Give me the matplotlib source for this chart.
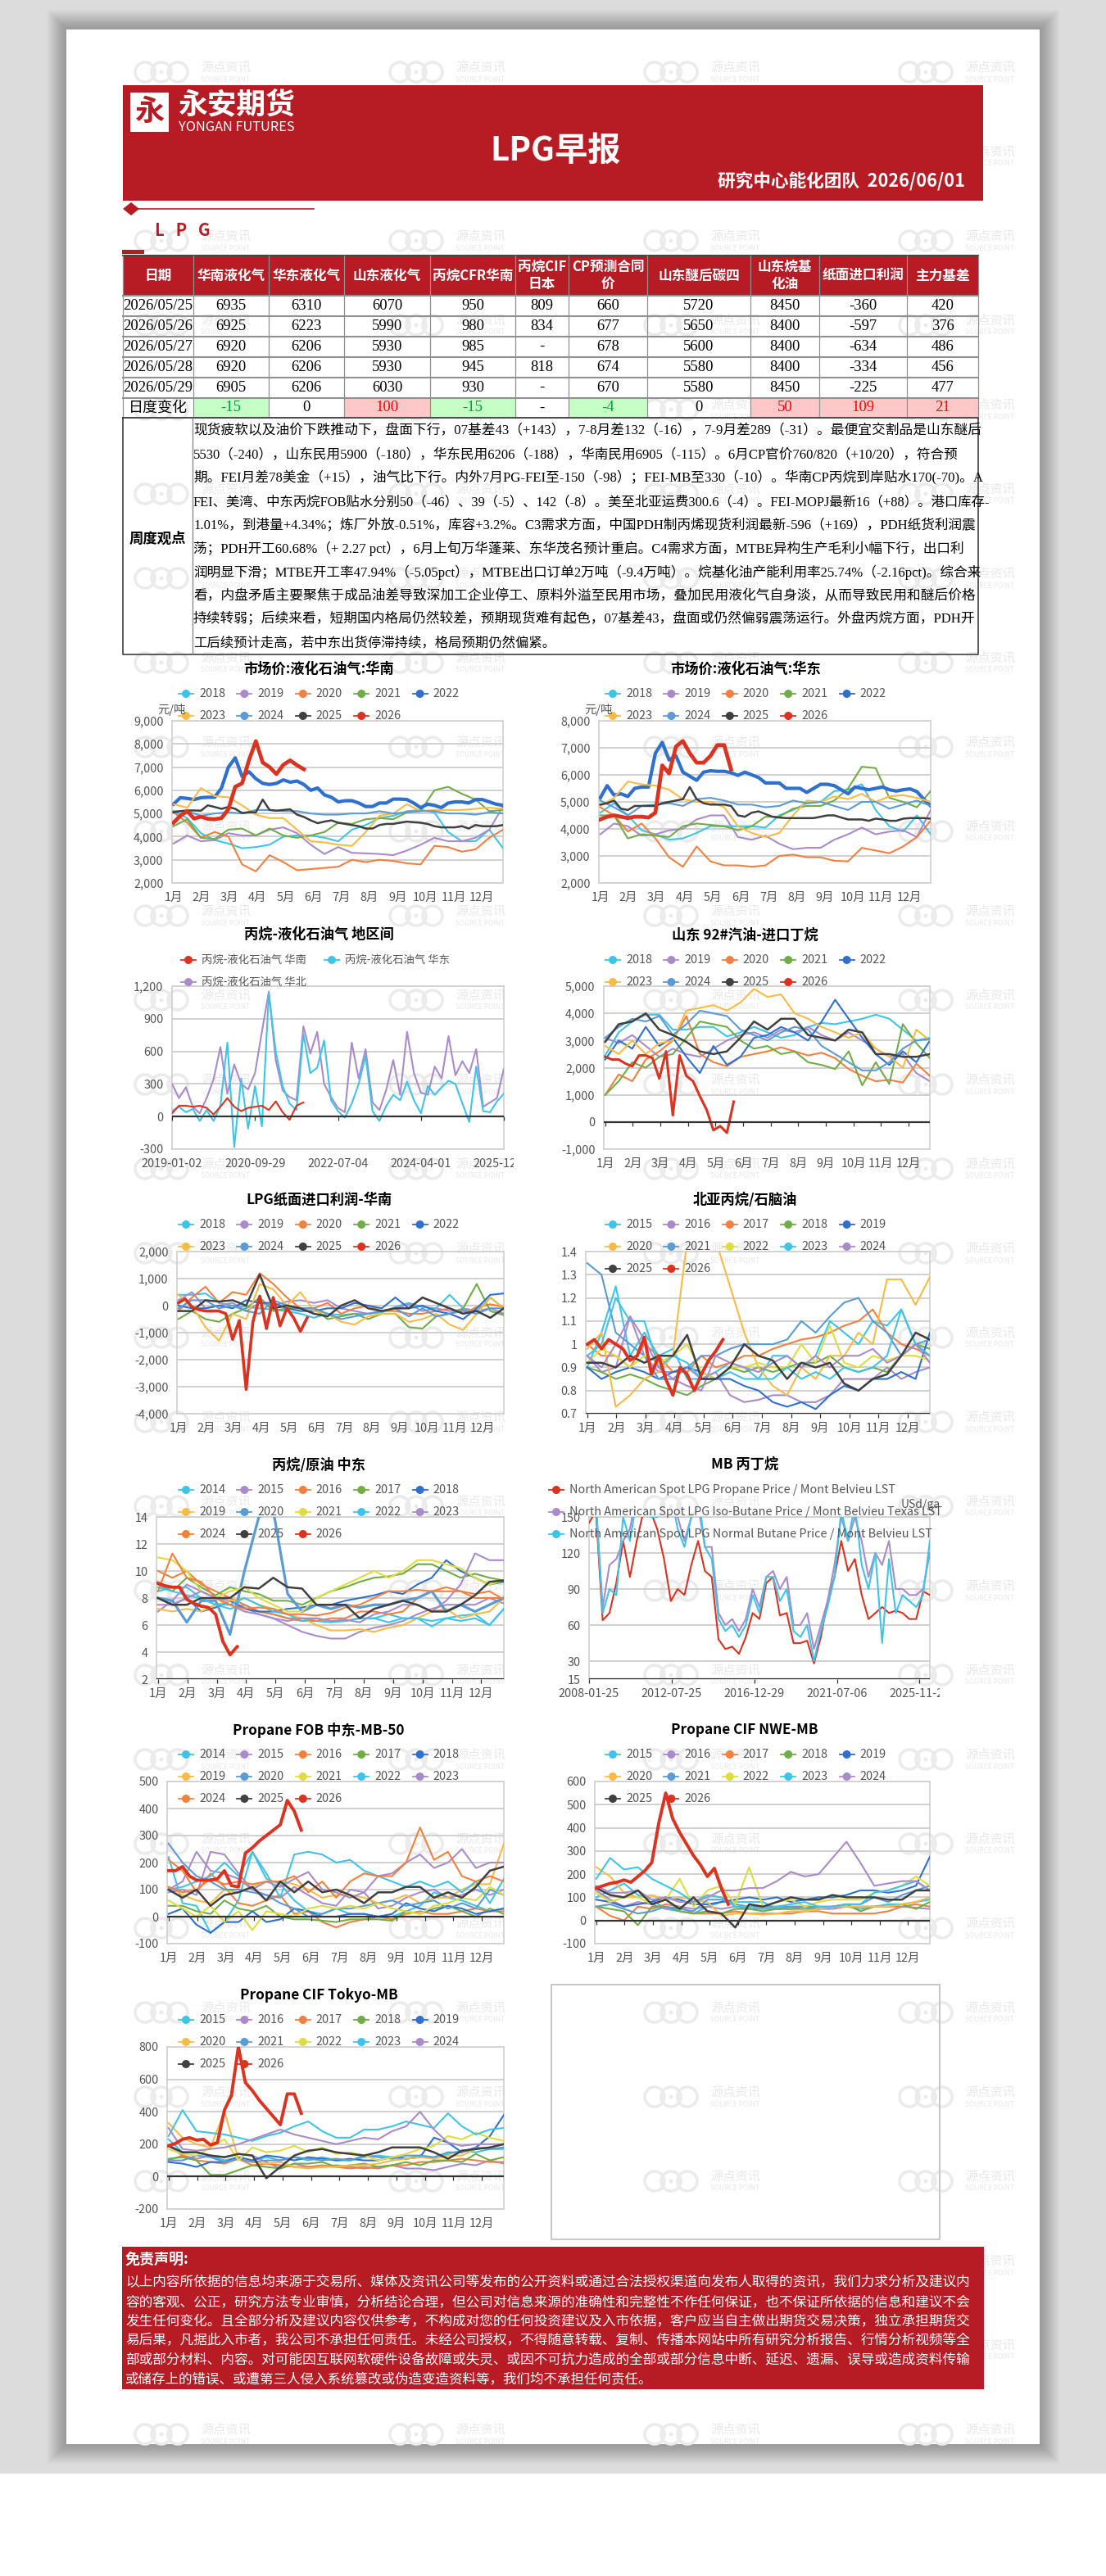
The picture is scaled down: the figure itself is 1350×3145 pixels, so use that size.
import numpy as np
import matplotlib
matplotlib.use('Agg')
import matplotlib.pyplot as plt
from matplotlib.patches import Rectangle, Circle, Polygon
from matplotlib.transforms import Bbox

plt.rcParams['font.family'] = ['Noto Sans CJK SC', 'DejaVu Sans']
SERIF = ['Liberation Serif', 'Noto Sans CJK SC']

W_PX, H_PX = 1350, 3145

# 表格
table_head = ['日期', '华南液化气', '华东液化气', '山东液化气', '丙烷CFR华南', '丙烷CIF\n日本', 'CP预测合同\n价',
              '山东醚后碳四', '山东烷基\n化油', '纸面进口利润', '主力基差']
table_rows = [
    ['2026/05/25', '6935', '6310', '6070', '950', '809', '660', '5720', '8450', '-360', '420'],
    ['2026/05/26', '6925', '6223', '5990', '980', '834', '677', '5650', '8400', '-597', '376'],
    ['2026/05/27', '6920', '6206', '5930', '985', '-', '678', '5600', '8400', '-634', '486'],
    ['2026/05/28', '6920', '6206', '5930', '945', '818', '674', '5580', '8400', '-334', '456'],
    ['2026/05/29', '6905', '6206', '6030', '930', '-', '670', '5580', '8450', '-225', '477'],
]
change_row = ['日度变化', '-15', '0', '100', '-15', '-', '-4', '0', '50', '109', '21']

comment_lines = [
    '现货疲软以及油价下跌推动下，盘面下行，07基差43（+143），7-8月差132（-16），7-9月差289（-31）。最便宜交割品是山东醚后',
    '5530（-240），山东民用5900（-180），华东民用6206（-188），华南民用6905（-115）。6月CP官价760/820（+10/20），符合预',
    '期。FEI月差78美金（+15），油气比下行。内外7月PG-FEI至-150（-98）；FEI-MB至330（-10）。华南CP丙烷到岸贴水170(-70)。A',
    'FEI、美湾、中东丙烷FOB贴水分别50（-46）、39（-5）、142（-8）。美至北亚运费300.6（-4）。FEI-MOPJ最新16（+88）。港口库存-',
    '1.01%，到港量+4.34%；炼厂外放-0.51%，库容+3.2%。C3需求方面，中国PDH制丙烯现货利润最新-596（+169），PDH纸货利润震',
    '荡；PDH开工60.68%（+ 2.27 pct），6月上旬万华蓬莱、东华茂名预计重启。C4需求方面，MTBE异构生产毛利小幅下行，出口利',
    '润明显下滑；MTBE开工率47.94%（-5.05pct），MTBE出口订单2万吨（-9.4万吨）。烷基化油产能利用率25.74%（-2.16pct)。综合来',
    '看，内盘矛盾主要聚焦于成品油差导致深加工企业停工、原料外溢至民用市场，叠加民用液化气自身淡，从而导致民用和醚后价格',
    '持续转弱；后续来看，短期国内格局仍然较差，预期现货难有起色，07基差43，盘面或仍然偏弱震荡运行。外盘丙烷方面，PDH开',
    '工后续预计走高，若中东出货停滞持续，格局预期仍然偏紧。',
]
disclaimer_lines = [
    '以上内容所依据的信息均来源于交易所、媒体及资讯公司等发布的公开资料或通过合法授权渠道向发布人取得的资讯，我们力求分析及建议内',
    '容的客观、公正，研究方法专业审慎，分析结论合理，但公司对信息来源的准确性和完整性不作任何保证，也不保证所依据的信息和建议不会',
    '发生任何变化。且全部分析及建议内容仅供参考，不构成对您的任何投资建议及入市依据，客户应当自主做出期货交易决策，独立承担期货交',
    '易后果，凡据此入市者，我公司不承担任何责任。未经公司授权，不得随意转载、复制、传播本网站中所有研究分析报告、行情分析视频等全',
    '部或部分材料、内容。对可能因互联网软硬件设备故障或失灵、或因不可抗力造成的全部或部分信息中断、延迟、遗漏、误导或造成资料传输',
    '或储存上的错误、或遭第三人侵入系统篡改或伪造变造资料等，我们均不承担任何责任。',
]

# 市场价:液化石油气:华南
s1_2018 = [5100, 4800, 4150, 3850, 3700, 3500, 3550, 3650, 4000, 4050, 4050, 3950, 3800, 4300, 4500, 4800, 4900, 5100, 5150, 5050, 4200, 3800, 3800, 4300, 3500]
s1_2019 = [3700, 4050, 3800, 3850, 4150, 4050, 4050, 4300, 4400, 4150, 3650, 3250, 3550, 3300, 3280, 3250, 3200, 3400, 3650, 3950, 3800, 3800, 3950, 4300, 5300]
s1_2020 = [5050, 4600, 3950, 4200, 4000, 2800, 2500, 3200, 2900, 2550, 2600, 2650, 2700, 3000, 2900, 3000, 2950, 2850, 2800, 3600, 3550, 3350, 3450, 3950, 4300]
s1_2021 = [4450, 4750, 3950, 3900, 4300, 4350, 4050, 4350, 4050, 3950, 4050, 4200, 4600, 4550, 4750, 4800, 4750, 5050, 5100, 6000, 6150, 5850, 5600, 5100, 5150]
s1_2022 = [5400, 5680, 5650, 5600, 5680, 5700, 5700, 6100, 7000, 7400, 6600, 6800, 6500, 6300, 6250, 6300, 6450, 6350, 6400, 6250, 6000, 6100, 5800, 5700, 5500, 5550, 5550, 5450, 5300, 5300, 5450, 5450, 5620, 5620, 5600, 5450, 5250, 5400, 5350, 5250, 5450, 5500, 5500, 5450, 5600, 5600, 5500, 5400, 5350]
s1_2023 = [5400, 5250, 6100, 5750, 5700, 5350, 4950, 4800, 4800, 4300, 3800, 3750, 3650, 3600, 4200, 4900, 5000, 5400, 5100, 5150, 5150, 5150, 5200, 5250, 5200]
s1_2024 = [5100, 5100, 4900, 5000, 5050, 5000, 5150, 5150, 5100, 5100, 5000, 4950, 4950, 5000, 5000, 5100, 5000, 5050, 5100, 5100, 5000, 5000, 4950, 5050, 5000]
s1_2025 = [5050, 5100, 5130, 5130, 5120, 5350, 5280, 5200, 5280, 5200, 5020, 5050, 5050, 5600, 5150, 5120, 5150, 5180, 4950, 4850, 4700, 4580, 4650, 4700, 4600, 4550, 4500, 4450, 4350, 4350, 4500, 4550, 4550, 4600, 4650, 4620, 4600, 4550, 4450, 4400, 4400, 4400, 4450, 4350, 4500, 4450, 4450, 4450, 4500]
s1_2026 = [4600, 4900, 5100, 4780, 4860, 4770, 4750, 4800, 5180, 6150, 6300, 7300, 8120, 7200, 7000, 6700, 7100, 7290, 7080, 6905]

# 市场价:液化石油气:华东
s2_2018 = [4600, 4950, 4500, 3950, 3800, 3600, 3650, 3850, 4100, 4100, 4100, 4100, 4050, 4500, 4700, 4950, 5000, 5400, 5450, 5650, 4700, 4100, 3900, 4500, 3800]
s2_2019 = [3800, 4200, 4100, 3750, 3800, 3950, 4000, 4350, 4500, 4500, 3700, 3600, 3750, 3450, 3250, 3300, 3300, 3600, 3800, 4050, 3800, 3900, 3950, 3700, 4700]
s2_2020 = [4800, 4500, 3900, 4200, 3650, 2950, 2600, 3350, 2800, 2650, 2650, 2600, 2650, 3000, 3050, 2950, 2950, 2820, 2800, 3300, 3200, 3100, 3350, 3700, 4300]
s2_2021 = [4500, 4500, 3650, 3800, 3750, 3700, 4100, 4200, 4150, 4100, 3950, 4100, 4450, 4450, 4750, 4850, 4850, 5050, 5500, 6300, 6250, 5150, 5000, 4800, 5400]
s2_2022 = [5150, 5600, 5250, 5300, 5200, 5500, 5550, 5550, 6800, 7200, 6550, 6700, 6100, 5950, 5800, 6100, 6150, 6130, 6130, 6080, 5980, 6100, 6000, 5900, 5700, 5700, 5700, 5500, 5500, 5500, 5350, 5500, 5650, 5650, 5600, 5450, 5300, 5550, 5500, 5450, 5500, 5550, 5450, 5400, 5450, 5480, 5380, 5100, 4850]
s2_2023 = [4850, 5150, 5750, 5650, 5600, 5450, 5100, 5000, 5000, 4800, 4100, 3850, 3700, 3850, 4500, 5050, 5000, 5200, 5100, 5300, 5000, 5200, 5250, 5150, 5000]
s2_2024 = [5050, 4800, 4500, 4850, 4900, 4950, 4850, 5100, 5150, 5050, 4900, 4900, 4800, 4850, 5050, 4950, 5000, 4850, 4700, 5000, 5000, 4750, 4900, 5050, 4850]
s2_2025 = [4900, 4950, 5050, 4750, 4700, 4850, 4850, 4850, 4850, 4950, 5000, 5050, 5100, 5550, 5100, 4950, 4900, 4900, 4900, 4850, 4500, 4450, 4600, 4650, 4550, 4450, 4420, 4400, 4400, 4400, 4400, 4400, 4450, 4500, 4500, 4420, 4350, 4350, 4350, 4300, 4380, 4350, 4300, 4300, 4380, 4400, 4400, 4400, 4380]
s2_2026 = [4350, 4450, 4500, 4450, 4400, 4450, 4450, 4420, 4600, 6350, 6050, 7050, 7250, 6800, 6450, 6450, 6700, 7100, 7100, 6200]

# 丙烷-液化石油气 地区间
s3_south = [30, 100, 100, 90, 100, 80, 20, 90, 170, 90, 50, 80, 90, 100, 60, 140, 40, -30, 100, 130]
s3_east = [50, 90, 40, 70, -40, 60, -40, 100, 680, -280, 350, -110, 280, -90, 1130, 600, 280, 120, 60, 760, 400, 450, 700, 150, 50, -10, 120, 300, 560, 50, -40, 100, 200, 150, 320, 150, 30, 280, 200, 270, 330, 300, 120, -50, 460, 50, 40, 140, 210]
s3_north = [300, 170, 270, 90, 30, 170, 340, 640, 210, 480, 300, 250, 400, 780, 1150, 520, 240, 180, 150, 830, 580, 780, 300, 180, 80, 40, 680, 350, 620, 130, 60, 250, 520, 200, 780, 400, 220, 200, 460, 350, 740, 380, 510, 400, 620, 90, 130, 170, 440]
s3_dates = ['2019-01-02', '2020-09-29', '2022-07-04', '2024-04-01', '2025-12-31']

# 山东 92#汽油-进口丁烷
s4_2018 = [2450, 3300, 3700, 3950, 3950, 3400, 3400, 3500, 3500, 3150, 3300, 3500, 3300, 3100, 3200, 3500, 3650, 3600, 3700, 3800, 3950, 3800, 3400, 3000, 3100]
s4_2019 = [3100, 2900, 3200, 2800, 2400, 2700, 2500, 2400, 2700, 3000, 3200, 3300, 3100, 3400, 3300, 3500, 3200, 3000, 3300, 3000, 2700, 2400, 2500, 1800, 1500]
s4_2020 = [1000, 1750, 1500, 2300, 2600, 3000, 3900, 2500, 2200, 2050, 2400, 2500, 2600, 2750, 2600, 2450, 2550, 2350, 1950, 1700, 1500, 1550, 1450, 2150, 1700]
s4_2021 = [1000, 1500, 2200, 2000, 2400, 2500, 3100, 3700, 3600, 3500, 3000, 2700, 2800, 2500, 2600, 2200, 2100, 1950, 2600, 1350, 2200, 1400, 3600, 2900, 2350]
s4_2022 = [2300, 3000, 2700, 3500, 2800, 3100, 2400, 1800, 2800, 2100, 2400, 3100, 3200, 3500, 3300, 3000, 3700, 4500, 3800, 3100, 2500, 2100, 2600, 2200, 3000]
s4_2023 = [2800, 2500, 3000, 2500, 2900, 3000, 4100, 4200, 4300, 4100, 4400, 4900, 4600, 4700, 4000, 3800, 3500, 3300, 3100, 3300, 2700, 2400, 2000, 3400, 3000]
s4_2024 = [3100, 3500, 3800, 3700, 3900, 3200, 3600, 4100, 4000, 3900, 3400, 3200, 3000, 3300, 3500, 3400, 2800, 2500, 2200, 1900, 1900, 2200, 2700, 3000, 3050]
s4_2025 = [2950, 3600, 3700, 4000, 3400, 3200, 2950, 2600, 2500, 2600, 3100, 3700, 3400, 3800, 3800, 3200, 3100, 3000, 3400, 3300, 2500, 2500, 2400, 2400, 2500]
s4_2026 = [2400, 2300, 2300, 2150, 2050, 2450, 2450, 2350, 1600, 2600, 250, 2450, 1700, 1500, 950, 450, -300, -150, -400, 750]

# LPG纸面进口利润-华南
s5_2018 = [400, 400, 450, 100, 0, -50, -100, -150, -200, -300, -450, -300, -350, -300, -300, -250, -50, 100, -50, -100, 400, -100, -200, 300, -100]
s5_2019 = [200, 500, -100, 0, 100, -200, 100, 0, 150, 200, 100, 200, -100, -200, -300, -200, -100, 50, -200, -100, -200, -150, -200, -100, -300]
s5_2020 = [-200, 300, 700, 100, 500, 400, 1200, 800, 300, -100, -100, 100, -300, -100, 0, -200, -200, -300, -300, -200, -100, -300, -50, 50, -50]
s5_2021 = [-500, -200, -500, -600, -300, -100, 300, -200, -100, -100, -100, -500, -400, -300, -500, -300, -300, -800, -850, -400, -300, -100, 800, -200, -350]
s5_2022 = [0, -100, -100, 0, -100, 200, 100, 100, -100, -200, -200, -100, -100, 100, 0, -100, 300, -100, 0, -200, -300, -500, -100, 400, 450]
s5_2023 = [400, 0, -800, -1300, -300, -500, 800, 600, 0, 500, -200, -300, -600, -700, -400, -300, -300, -600, -500, -300, -700, -900, -300, 300, -100]
s5_2024 = [-100, 200, 200, -100, 0, -200, -300, 200, 0, -100, -100, -300, -500, -400, -300, -200, -100, -400, -100, -400, -300, -200, -300, -100, -100]
s5_2025 = [-200, -200, 200, 150, 200, 0, 1150, -100, 0, -100, -300, -400, 0, 200, -100, -200, -100, -100, 300, 100, -100, -300, -200, -450, -100]
s5_2026 = [100, 250, -50, -150, -200, -200, -200, -300, -1250, -550, -3100, -600, 350, -850, 300, -750, -100, -450, -950, -450]

# 北亚丙烷/石脑油
s6_2015 = [.9, 1.05, 1.25, .95, 1.05, .95, .98, .85, .85, .88, .92, .9, .85, .95, .95, .9, .95, 1.1, 1.05, 1.0, 1.1, 1.08, 1.15, 1.0, .95]
s6_2016 = [.95, .88, .9, 1.12, .95, .88, .88, .9, .85, .88, .78, .75, .76, .78, .78, .75, .75, .78, .85, .85, .85, .9, .85, .88, .9]
s6_2017 = [1.0, .95, .95, .9, 1.0, .95, .88, .88, .95, .9, .92, .95, .95, .98, 1.0, 1.02, 1.03, 1.05, 1.08, 1.1, 1.15, 1.05, 1.0, .98, .95]
s6_2018 = [.9, .88, .85, .87, .85, .82, .8, .78, .82, .85, .9, .88, .9, .88, .9, .92, .92, .95, .9, .88, .9, .88, .95, 1.0, .98]
s6_2019 = [.9, .85, .88, .9, .88, .85, .88, .9, .88, .85, .85, .82, .8, .75, .73, .75, .72, .78, .82, .8, .85, .85, .88, .85, 1.05]
s6_2020 = [.98, 1.05, .73, .78, .85, .88, .95, 1.45, 1.45, 1.45, 1.25, 1.05, .9, .82, .78, .9, .85, .95, .95, 1.05, 1.0, 1.28, 1.28, 1.17, 1.29]
s6_2021 = [1.35, 1.3, 1.05, 1.0, .95, .85, .85, .9, .95, .95, .98, 1.0, 1.0, 1.0, 1.02, 1.1, 1.05, 1.12, 1.18, 1.2, 1.1, 1.05, .95, 1.0, 1.02]
s6_2022 = [.92, .98, .95, .9, .95, .92, .95, 1.0, .88, .85, .9, .9, .92, .9, .9, 1.0, .92, 1.08, .92, .9, .95, .93, .95, .95, .93]
s6_2023 = [.95, 1.0, 1.2, 1.1, 1.1, .9, .95, .92, .85, .85, .88, .85, .85, .85, .9, .85, .88, .85, .9, .88, .9, .95, 1.15, 1.0, .95]
s6_2024 = [.95, .9, 1.0, 1.12, 1.02, .9, .85, .82, .8, .95, .92, .9, .88, .92, .95, .9, .95, .9, .95, .95, .98, .92, .95, 1.0, .92]
s6_2025 = [.92, .92, .9, .95, .92, .95, .95, 1.04, .85, .85, .9, 1.0, .95, .93, .85, .92, .9, .92, .83, .8, .85, .87, .95, 1.05, 1.02]
s6_2026 = [1.0, 1.02, .98, 1.02, 1.0, .98, .93, .95, 1.03, .87, .95, .85, .78, .9, .87, .8, .87, .93, .97, 1.02]

# 丙烷/原油 中东
s7_2014 = [8.5, 8.8, 8.8, 8, 7.5, 7.2, 7.5, 7, 6.8, 6.5, 6.5, 6.3, 6.2, 6.3, 6.5, 6.5, 6.8, 6.5, 6.5, 6.3, 6.5, 6.7, 6.8, 6, 7.2]
s7_2015 = [7, 7.8, 9, 8.5, 8, 7.8, 7.3, 6.8, 6.5, 6, 5.5, 5.2, 5, 5, 5.5, 5.8, 6, 6.3, 6.8, 7.2, 7.5, 7.5, 7.5, 8, 7.6]
s7_2016 = [10, 9.5, 10, 9, 8.5, 8, 7.5, 7, 6.8, 6.5, 6.3, 6.3, 6.5, 6.5, 7, 7, 6.8, 7, 8, 8.5, 8.8, 8.5, 8, 8, 8]
s7_2017 = [9, 8.5, 9.5, 8.8, 8.2, 8.8, 8.5, 8.3, 7.8, 7.8, 7.5, 8, 8.5, 8.8, 9.2, 9.5, 9.6, 9.8, 10.5, 10.5, 10, 9.5, 9.8, 9.5, 9.3]
s7_2018 = [8, 7.5, 8, 7, 7.3, 7.8, 7.2, 7, 7, 7.2, 7.3, 7.5, 7.5, 7.8, 8, 8.2, 8.5, 8.3, 9, 9.5, 10.8, 10, 9.5, 9, 9.2]
s7_2019 = [7.2, 7, 7.2, 7, 7.5, 7.8, 8, 7.5, 7.2, 6.8, 6.5, 6, 5.6, 5.6, 5.7, 5.5, 5.8, 6, 6.5, 7, 7.2, 6.5, 6.8, 7, 8]
s7_2020 = [8, 7.8, 6.2, 7.8, 7.8, 5.3, 10, 14, 14.5, 8.3, 7, 7.5, 7.2, 7.5, 7.3, 7.5, 7.5, 7.8, 8, 8.5, 7, 7.5, 7, 7.5, 8]
s7_2021 = [11, 10.8, 10, 8.5, 8, 8.5, 8.8, 8, 7.5, 7, 7, 8, 8.5, 9, 9.5, 10, 9.5, 10, 10.8, 10.8, 10.5, 10.2, 9.5, 9, 9.3]
s7_2022 = [8.8, 8.5, 8.2, 8, 7.5, 7.5, 8, 7.5, 7, 6.8, 6.3, 6.5, 6.3, 6.3, 6.5, 6.5, 6.2, 6.5, 6.5, 5.9, 6.5, 6.3, 6.5, 6, 7.2]
s7_2023 = [7.5, 7.5, 8, 8.5, 8, 7.5, 7, 6.8, 6.5, 6.3, 6.5, 6.5, 6.3, 6.4, 6.2, 6.8, 7, 7.5, 7.5, 7, 7.8, 9, 11.3, 10.8, 10.8]
s7_2024 = [8.5, 11.3, 9.5, 9.2, 8, 7.5, 7.2, 7.3, 7.2, 6.8, 6.8, 6.7, 6.9, 7.3, 7.5, 8, 8.5, 8.5, 8.6, 8.5, 8.5, 8.5, 8.3, 8.5, 7.9]
s7_2025 = [8, 7.5, 7.5, 8, 8, 8, 8.8, 8.7, 9.5, 8.8, 8.7, 7.5, 7.5, 7.5, 6.5, 7.2, 7.5, 7.8, 7.5, 7, 7, 7.5, 8.2, 9.2, 9.3]
s7_2026 = [9.1, 8.9, 8.8, 8.8, 7.9, 7.6, 7.4, 7.3, 6.8, 4.8, 3.8, 4.4]

# MB 丙丁烷
s8_propane = [145, 155, 64, 70, 95, 130, 100, 130, 155, 155, 140, 115, 80, 90, 85, 110, 130, 105, 100, 48, 40, 42, 36, 50, 70, 65, 95, 100, 68, 70, 45, 45, 47, 28, 50, 80, 100, 130, 105, 115, 85, 65, 70, 75, 70, 72, 70, 65, 65, 88, 85]
s8_iso = [160, 160, 75, 110, 115, 130, 140, 170, 170, 150, 150, 160, 155, 150, 130, 150, 160, 125, 125, 70, 60, 65, 55, 65, 90, 75, 100, 105, 90, 100, 60, 60, 70, 40, 60, 80, 110, 150, 130, 150, 130, 100, 120, 110, 130, 90, 90, 85, 85, 90, 120]
s8_normal = [160, 165, 70, 90, 85, 150, 130, 165, 170, 150, 150, 155, 170, 140, 125, 150, 170, 125, 115, 65, 55, 60, 50, 60, 85, 70, 100, 100, 80, 90, 55, 50, 60, 30, 55, 75, 100, 155, 130, 160, 110, 90, 120, 45, 115, 70, 85, 80, 75, 85, 130]
s8_dates = ['2008-01-25', '2012-07-25', '2016-12-29', '2021-07-06', '2025-11-28']

# Propane FOB 中东-MB-50
s9_2014 = [220, 50, 40, -60, -20, 60, 240, 140, 120, 60, 20, 10, 30, 10, 10, 0, 0, 20, 40, 90, 70, 60, 40, 20, 30]
s9_2015 = [100, 130, 240, 170, 160, 140, 100, 80, 70, 110, 80, 50, 40, 100, 90, 30, 40, 70, 90, 100, 70, 80, 100, 80, 100]
s9_2016 = [210, 170, 90, 160, 110, 50, 40, 60, 80, 10, 20, -20, -40, -20, -10, 0, -10, 10, 20, 10, 10, 20, 30, 20, 20]
s9_2017 = [40, 40, 20, 10, 60, 30, 20, 40, 0, -10, -10, -15, -20, -10, -10, -10, -15, 20, 10, 30, 40, 20, 0, 30, 10]
s9_2018 = [10, 30, -30, -60, -20, -20, 20, -20, -10, 30, 20, 0, 0, 10, 10, 0, 10, 50, 30, 20, 40, 30, 10, 20, 30]
s9_2019 = [110, 80, 60, 50, 100, 90, 110, 130, 130, 120, 100, 70, 80, 80, 70, 50, 60, 80, 50, 70, 70, 100, 120, 120, 270]
s9_2020 = [270, 200, 150, 130, 100, 100, 90, 80, 50, 30, 0, 10, 30, 30, 40, 50, 60, 40, 50, 60, 30, 50, 30, 100, 80]
s9_2021 = [60, 30, 0, 40, -20, 20, -50, 20, 10, 0, 30, 40, 30, 40, 30, 50, 30, 20, 10, 40, 50, 70, 60, 110, 80]
s9_2022 = [100, 110, 130, 150, 200, 150, 240, 160, 70, 230, 240, 230, 200, 210, 170, 150, 130, 110, 130, 110, 130, 90, 130, 50, 140]
s9_2023 = [90, 100, 80, 240, 230, 160, 100, 130, 110, 140, 165, 100, 90, 70, 90, 150, 160, 200, 230, 180, 200, 250, 180, 200, 200]
s9_2024 = [110, 90, 100, 140, 120, 130, 120, 130, 130, 150, 90, 130, 70, 130, 160, 150, 150, 200, 330, 210, 240, 150, 130, 150, 130]
s9_2025 = [100, 70, 100, 40, 80, 90, 110, 60, 130, 90, 130, 90, 100, 80, 50, 90, 90, 110, 110, 70, 90, 70, 110, 170, 185]
s9_2026 = [170, 170, 185, 150, 135, 135, 135, 140, 170, 115, 110, 235, 255, 280, 300, 320, 340, 430, 390, 320]

# Propane CIF NWE-MB
s10_2015 = [100, 130, 160, 110, 90, 50, 40, 30, 60, 80, 80, 80, 80, 50, 60, 60, 50, 60, 60, 50, 60, 70, 70, 80, 90]
s10_2016 = [130, 90, 60, 80, 70, 50, 60, 50, 60, 50, 60, 50, 50, 50, 50, 60, 50, 50, 60, 60, 60, 60, 60, 55, 50]
s10_2017 = [60, 20, 0, 60, 50, 70, 60, 30, 30, 30, 40, 30, 30, 30, 30, 40, 40, 30, 30, 30, 30, 40, 60, 70, 60]
s10_2018 = [60, 50, 40, -20, 60, 60, 40, 30, 40, 30, 50, 50, 40, 50, 50, 50, 50, 60, 70, 40, 60, 60, 70, 50, 80]
s10_2019 = [90, 80, 60, 70, 80, 100, 90, 70, 70, 80, 90, 100, 90, 100, 80, 90, 100, 100, 110, 130, 130, 120, 130, 150, 275]
s10_2020 = [230, 190, 120, 100, 110, 90, 100, 90, 80, 20, 30, 30, 25, 30, 40, 40, 50, 60, 60, 60, 60, 60, 70, 80, 100]
s10_2021 = [60, 70, 50, 30, 40, 60, 50, 40, 90, 90, 70, 60, 60, 60, 60, 60, 60, 60, 70, 70, 100, 80, 110, 130, 150]
s10_2022 = [120, 80, 100, 100, 70, 90, 180, 60, 130, 150, 70, 230, 60, 80, 90, 60, 80, 90, 90, 90, 120, 130, 150, 190, 150]
s10_2023 = [180, 270, 220, 230, 180, 150, 120, 80, 110, 100, 60, 60, 50, 60, 70, 80, 60, 60, 70, 70, 120, 130, 150, 170, 130]
s10_2024 = [150, 120, 120, 130, 90, 100, 80, 80, 100, 130, 130, 140, 140, 170, 210, 190, 200, 270, 340, 250, 150, 160, 170, 170, 130]
s10_2025 = [140, 110, 100, 130, 70, 90, 50, 100, 40, 30, -30, 70, 60, 80, 100, 90, 90, 110, 100, 100, 100, 90, 90, 130, 130]
s10_2026 = [140, 150, 160, 165, 175, 165, 190, 215, 250, 420, 550, 440, 380, 330, 280, 240, 190, 225, 140, 70]

# Propane CIF Tokyo-MB
s11_2015 = [230, 150, 150, 130, 100, 120, 100, 120, 100, 120, 100, 120, 100, 100, 120, 130, 120, 110, 130, 110, 140, 160, 150, 170, 170]
s11_2016 = [190, 130, 110, 130, 120, 140, 130, 90, 50, 80, 60, 60, 70, 60, 50, 60, 70, 50, 50, 40, 60, 80, 70, 100, 80]
s11_2017 = [100, 130, 100, 90, 80, 110, 70, 80, 70, 60, 60, 70, 60, 50, 60, 50, 70, 70, 90, 90, 100, 110, 100, 90, 90]
s11_2018 = [110, 120, 100, 10, 10, 40, 70, 60, 50, 80, 80, 90, 60, 70, 80, 60, 70, 90, 70, 100, 100, 90, 140, 100, 120]
s11_2019 = [90, 80, 60, 90, 90, 120, 100, 130, 120, 100, 120, 110, 100, 110, 100, 100, 120, 110, 120, 240, 210, 150, 180, 250, 380]
s11_2020 = [330, 240, 200, 180, 400, 110, 90, 80, 90, 60, 50, 60, 60, 70, 70, 80, 100, 110, 120, 110, 130, 130, 170, 180, 200]
s11_2021 = [100, 100, 130, 120, 90, 110, 90, 100, 100, 120, 110, 100, 110, 100, 130, 120, 110, 130, 130, 120, 150, 150, 180, 170, 180]
s11_2022 = [170, 140, 130, 180, 230, 100, 180, 150, 160, 190, 150, 180, 140, 150, 130, 100, 120, 140, 170, 190, 250, 230, 270, 240, 220]
s11_2023 = [250, 410, 280, 270, 260, 240, 220, 250, 270, 310, 340, 280, 240, 240, 290, 290, 310, 340, 320, 300, 390, 310, 260, 290, 300]
s11_2024 = [300, 170, 160, 170, 180, 200, 230, 260, 290, 260, 240, 220, 200, 220, 240, 230, 280, 310, 400, 290, 210, 190, 200, 200, 200]
s11_2025 = [190, 150, 150, 130, 120, 140, 130, -10, 60, 130, 160, 170, 150, 140, 130, 150, 180, 180, 180, 150, 110, 160, 170, 180, 200]
s11_2026 = [190, 205, 230, 240, 225, 230, 195, 210, 410, 500, 800, 580, 530, 470, 420, 370, 320, 510, 510, 390]

MONTHS = ['%d月' % m for m in range(1, 13)]
RED = '#b71c24'
CYAN = '#3ec4e8'
PURPLE = '#a98bcb'
ORANGE = '#f4803f'
GREEN = '#70ad47'
BLUE = '#2f6fce'
YELLOW = '#f9bb44'
LBLUE = '#5b9bd5'
YGREEN = '#dfdc3f'
BLACK = '#404040'
CRED = '#dc3220'
TXT = '#555555'
GRID = '#d0d0d0'

YEAR_END = 11.77
WEEK = YEAR_END / 48

fig = plt.figure(figsize=(W_PX / 100, H_PX / 100), dpi=100)
renderer = fig.canvas.get_renderer()


def layer(z):
    ax = fig.add_axes([0, 0, 1, 1], zorder=z)
    ax.set_xlim(0, W_PX)
    ax.set_ylim(H_PX, 0)
    ax.axis('off')
    return ax


page = layer(0)
over = layer(10)


def rect(x0, y0, x1, y1, **kw):
    kw.setdefault('lw', 0)
    page.add_patch(Rectangle((x0, y0), x1 - x0, y1 - y0, **kw))


def fit_text(ax, x0, x1, y, s, size, **kw):
    t = ax.text(x0, y, s, fontsize=size, ha='left', va='center', **kw)
    w = t.get_window_extent(renderer).width
    t.set_fontsize(size * (x1 - x0) / w)
    return t


# 背景和页面
rect(0, 0, W_PX, 3020, color='#dcdcdc')
for i in range(24, 0, -1):
    rect(81 - i, 36 - i, 1269 + i, 2984 + i, color='black', alpha=0.012, zorder=1)
rect(81, 36, 1269, 2984, color='white', zorder=1)

# 水印
for wy in 88 + 103 * np.arange(29):
    for wx in [197, 508, 819, 1130]:
        for dx in [-20, 0, 20]:
            page.add_patch(Circle((wx + dx, wy), 12, fill=False, ec='#ebebeb', lw=2.6, zorder=1.5))
        page.add_patch(Circle((wx, wy), 2.5, color='#ebebeb', lw=0, zorder=1.5))
        page.text(wx + 48, wy - 6, '源点资讯', fontsize=11, color='#e8e8e8', va='center', zorder=1.5)
        page.text(wx + 48, wy + 9, 'SOURCE POINT', fontsize=6, color='#e8e8e8', va='center', zorder=1.5)

# 标题栏
rect(150, 104, 1200, 245, color=RED, zorder=2)
rect(159, 113, 206, 161, color='white', zorder=3)
page.text(182, 137, '永', fontsize=26, color=RED, weight='bold', ha='center', va='center', zorder=4)
fit_text(page, 217, 360, 129, '永安期货', 24, color='white', weight='bold', zorder=4)
fit_text(page, 218, 359, 156, 'YONGAN FUTURES', 10, color='white', zorder=4)
page.text(678, 184, 'LPG早报', fontsize=29, color='white', weight='bold', ha='center', va='center', zorder=4)
fit_text(page, 876, 1179, 222, '研究中心能化团队  2026/06/01', 15, color='white', weight='bold', zorder=4)

page.add_patch(Polygon([[150, 255], [160, 247], [170, 255], [160, 263]], color=RED, lw=0, zorder=3))
page.plot([165, 383], [255, 255], color=RED, lw=1.2, zorder=3)
fit_text(page, 189, 256, 281, 'L   P   G', 13, color=RED, weight='bold', zorder=3)
rect(149, 305, 176, 310, color=RED, zorder=3)

# 表格
col_x = [150, 236, 328, 420, 525, 629, 694, 790, 916, 1000, 1107, 1194]
row_y = [361, 386, 411, 436, 461, 486, 510]
rect(col_x[0], 312, col_x[-1], 361, color=RED, zorder=2)
page.plot([col_x[0], col_x[-1]], [312, 312], color='#444444', lw=1.5, zorder=3)
for i, h in enumerate(table_head):
    page.text((col_x[i] + col_x[i + 1]) / 2, 336.5, h, fontsize=12, color='white', weight='bold', ha='center',
              va='center', linespacing=1.25, zorder=4)
for r, row in enumerate(table_rows):
    yc = (row_y[r] + row_y[r + 1]) / 2
    for i, v in enumerate(row):
        page.text((col_x[i] + col_x[i + 1]) / 2, yc, v, fontsize=13.4, family=SERIF, color='black', ha='center',
                  va='center', zorder=4)
for i, v in enumerate(change_row):
    col = 'black'
    if i > 0 and v not in ('0', '-'):
        if v.startswith('-'):
            rect(col_x[i], row_y[5], col_x[i + 1], row_y[6], color='#c6ffc6', zorder=2)
            col = '#00a040'
        else:
            rect(col_x[i], row_y[5], col_x[i + 1], row_y[6], color='#ffc8c8', zorder=2)
            col = '#ff0000'
    page.text((col_x[i] + col_x[i + 1]) / 2, (row_y[5] + row_y[6]) / 2, v, fontsize=13 if i == 0 else 13.4,
              family=SERIF, color=col, ha='center', va='center', zorder=4)
for y in row_y:
    page.plot([col_x[0], col_x[-1]], [y, y], color='#909090', lw=1.5, zorder=3)
for x in col_x:
    page.plot([x, x], [312, 510], color='#909090', lw=0.9, zorder=3)
page.plot([150, 1194, 1194, 150, 150], [510, 510, 799, 799, 510], color='#404040', lw=1.2, zorder=3)
page.plot([235, 235], [510, 799], color='#808080', lw=0.9, zorder=3)
page.text(192, 658, '周度观点', fontsize=12.5, color='black', weight='bold', ha='center', va='center', zorder=4)

comment_y = [526, 555, 583, 613, 641, 670, 699, 728, 756, 785]
comment_end = [1192, 1166, 1194, 1206, 1187, 1176, 1198, 1185, 1185, 677]
for y, x1, line in zip(comment_y, comment_end, comment_lines):
    fit_text(page, 236, x1, y, line, 12, family=SERIF, color='black', zorder=4)


def fin_axes(box, ymin, ymax, yticks, ylabels, xlim, xticks, xlabels, dark=None, tick_size=10.4):
    x0, y0, x1, y1 = box
    ax = fig.add_axes([x0 / W_PX, 1 - y1 / H_PX, (x1 - x0) / W_PX, (y1 - y0) / H_PX], zorder=3)
    ax.patch.set_alpha(0)
    ax.set_xlim(*xlim)
    ax.set_ylim(ymin, ymax)
    ax.set_yticks(yticks)
    ax.set_yticklabels(ylabels)
    ax.set_xticks(xticks)
    ax.set_xticklabels(xlabels)
    ax.tick_params(axis='y', length=0, pad=7.5, labelsize=tick_size, labelcolor=TXT)
    ax.tick_params(axis='x', length=0, pad=8, labelsize=tick_size, labelcolor=TXT)
    ax.grid(axis='y', color=GRID, lw=1.4, zorder=0)
    ax.set_axisbelow(True)
    for sp in ax.spines.values():
        sp.set_color(GRID)
        sp.set_linewidth(1.2)
    if dark is not None:
        ax.axhline(dark, color='#333333', lw=1.6, zorder=30)
        tick_len = (ymax - ymin) * 5 / (y1 - y0)
        ax.vlines(xticks, dark - tick_len, dark, color='#333333', lw=0.9, zorder=30, clip_on=False)
    return ax


def draw_legend(rows, first_x, step, items, size=10.4):
    for n, (label, col) in enumerate(items):
        r = n // 5
        mx = first_x + (n % 5) * step
        over.plot([mx - 9, mx + 9], [rows[r], rows[r]], color=col, lw=1.3)
        over.add_patch(Circle((mx, rows[r]), 5, color=col, lw=0))
        over.text(mx + 16, rows[r], label, fontsize=size, color=TXT, va='center')


def seasonal(box, ymin, ymax, yticks, ylabels, title, series, colors, rows, first_x, title_x,
             dark=None, lw=1.5, lw_last=2.8):
    ax = fin_axes(box, ymin, ymax, yticks, ylabels, (-0.05, YEAR_END), np.arange(12), MONTHS, dark=dark)
    items = []
    for (label, vals), col in zip(series, colors):
        if label == '2026':
            xs = np.arange(len(vals)) * WEEK
            ax.plot(xs, vals, color=col, lw=lw_last, zorder=20, solid_joinstyle='round')
        elif label == '2025':
            xs = np.linspace(0, YEAR_END, len(vals))
            ax.plot(xs, vals, color=col, lw=lw + 0.3, zorder=15, solid_joinstyle='round')
        else:
            xs = np.linspace(0, YEAR_END, len(vals))
            ax.plot(xs, vals, color=col, lw=lw, zorder=5, solid_joinstyle='round')
        items.append((label, col))
    over.text(title_x, rows[0] - 30, title, fontsize=12.4, weight='bold', color='black', ha='center', va='center')
    draw_legend(rows, first_x, 71.4, items)
    return ax


COLORS_18 = [CYAN, PURPLE, ORANGE, GREEN, BLUE, YELLOW, LBLUE, BLACK, CRED]
COLORS_15 = [CYAN, PURPLE, ORANGE, GREEN, BLUE, YELLOW, LBLUE, YGREEN, CYAN, PURPLE, BLACK, CRED]
COLORS_14 = [CYAN, PURPLE, ORANGE, GREEN, BLUE, YELLOW, LBLUE, YGREEN, CYAN, PURPLE, ORANGE, BLACK, CRED]

# 第一行
ax = seasonal((210, 880, 614, 1078), 2000, 9000, range(2000, 9001, 1000), [format(v, ',') for v in range(2000, 9001, 1000)],
              '市场价:液化石油气:华南',
              [('2018', s1_2018), ('2019', s1_2019), ('2020', s1_2020), ('2021', s1_2021), ('2022', s1_2022),
               ('2023', s1_2023), ('2024', s1_2024), ('2025', s1_2025), ('2026', s1_2026)],
              COLORS_18, [847, 874], 227, 389, lw_last=3.4)
ax.get_lines()[4].set_linewidth(3)
over.text(192, 866, '元/吨', fontsize=10.4, color=TXT, va='center')

ax = seasonal((731, 880, 1136, 1078), 2000, 8000, range(2000, 8001, 1000), [format(v, ',') for v in range(2000, 8001, 1000)],
              '市场价:液化石油气:华东',
              [('2018', s2_2018), ('2019', s2_2019), ('2020', s2_2020), ('2021', s2_2021), ('2022', s2_2022),
               ('2023', s2_2023), ('2024', s2_2024), ('2025', s2_2025), ('2026', s2_2026)],
              COLORS_18, [847, 874], 748, 910, lw_last=3.4)
ax.get_lines()[4].set_linewidth(3)
over.text(713, 866, '元/吨', fontsize=10.4, color=TXT, va='center')

# 第二行
ax = fin_axes((210, 1204, 615, 1403), -300, 1200, range(-300, 1201, 300), [format(v, ',') for v in range(-300, 1201, 300)],
              (0, 48), [0, 12, 24, 36, 48], s3_dates, dark=0)
ax.plot(np.arange(len(s3_north)), s3_north, color=PURPLE, lw=1.5, zorder=5)
ax.plot(np.arange(len(s3_east)), s3_east, color=CYAN, lw=1.5, zorder=6)
ax.plot(np.arange(len(s3_south)), s3_south, color=CRED, lw=1.5, zorder=7)
ax.get_xticklabels()[-1].set_clip_on(True)
ax.get_xticklabels()[-1].set_clip_box(Bbox([[500, 0], [627, H_PX]]))
over.text(389, 1141, '丙烷-液化石油气 地区间', fontsize=12.4, weight='bold', ha='center', va='center')
for mx, my, name, col in [(230, 1172, '丙烷-液化石油气 华南', CRED), (405, 1172, '丙烷-液化石油气 华东', CYAN), (230, 1199, '丙烷-液化石油气 华北', PURPLE)]:
    over.plot([mx - 9, mx + 9], [my, my], color=col, lw=1.3)
    over.add_patch(Circle((mx, my), 5, color=col, lw=0))
    over.text(mx + 16, my, name, fontsize=9.6, color=TXT, va='center')

seasonal((737, 1204, 1135, 1403), -1000, 5000, range(-1000, 5001, 1000), [format(v, ',') for v in range(-1000, 5001, 1000)],
         '山东 92#汽油-进口丁烷',
         [('2018', s4_2018), ('2019', s4_2019), ('2020', s4_2020), ('2021', s4_2021), ('2022', s4_2022),
          ('2023', s4_2023), ('2024', s4_2024), ('2025', s4_2025), ('2026', s4_2026)],
         COLORS_18, [1172, 1199], 748, 909, dark=0, lw_last=2.2)

# 第三行
seasonal((216, 1528, 615, 1726), -4000, 2000, range(-4000, 2001, 1000), [format(v, ',') for v in range(-4000, 2001, 1000)],
         'LPG纸面进口利润-华南',
         [('2018', s5_2018), ('2019', s5_2019), ('2020', s5_2020), ('2021', s5_2021), ('2022', s5_2022),
          ('2023', s5_2023), ('2024', s5_2024), ('2025', s5_2025), ('2026', s5_2026)],
         COLORS_18, [1495, 1522], 227, 389, lw_last=2.6)

seasonal((715, 1528, 1135, 1726), .7, 1.4, [.7, .8, .9, 1, 1.1, 1.2, 1.3, 1.4], ['0.7', '0.8', '0.9', '1', '1.1', '1.2', '1.3', '1.4'],
         '北亚丙烷/石脑油',
         [('2015', s6_2015), ('2016', s6_2016), ('2017', s6_2017), ('2018', s6_2018), ('2019', s6_2019),
          ('2020', s6_2020), ('2021', s6_2021), ('2022', s6_2022), ('2023', s6_2023), ('2024', s6_2024),
          ('2025', s6_2025), ('2026', s6_2026)],
         COLORS_15, [1495, 1522, 1549], 748, 909, dark=.7)

# 第四行
ax = seasonal((191, 1852, 615, 2050), 2, 14, range(2, 15, 2), [str(v) for v in range(2, 15, 2)],
              '丙烷/原油 中东',
              [('2014', s7_2014), ('2015', s7_2015), ('2016', s7_2016), ('2017', s7_2017), ('2018', s7_2018),
               ('2019', s7_2019), ('2020', s7_2020), ('2021', s7_2021), ('2022', s7_2022), ('2023', s7_2023),
               ('2024', s7_2024), ('2025', s7_2025), ('2026', s7_2026)],
              COLORS_14, [1819, 1846, 1873], 227, 389, dark=2)
ax.get_lines()[7].set_linewidth(2.3)

ax = fin_axes((719, 1852, 1135, 2050), 15, 150, [15, 30, 60, 90, 120, 150], ['15', '30', '60', '90', '120', '150'],
              (0, 49.5), [0, 12, 24, 36, 48], s8_dates, dark=15)
ax.plot(np.linspace(0, 49.5, len(s8_propane)), s8_propane, color=CRED, lw=1.5, zorder=5)
ax.plot(np.linspace(0, 49.5, len(s8_iso)), s8_iso, color=PURPLE, lw=1.5, zorder=6)
ax.plot(np.linspace(0, 49.5, len(s8_normal)), s8_normal, color=CYAN, lw=1.5, zorder=7)
ax.get_xticklabels()[-1].set_clip_on(True)
ax.get_xticklabels()[-1].set_clip_box(Bbox([[1000, 0], [1147, H_PX]]))
over.text(909, 1788, 'MB 丙丁烷', fontsize=12.4, weight='bold', ha='center', va='center')
over.text(1148, 1837, 'USd/ga', fontsize=10, color=TXT, ha='right', va='center')
for my, name, x1, col in [(1819, 'North American Spot LPG Propane Price / Mont Belvieu LST', 1093, CRED),
                          (1846, 'North American Spot LPG Iso-Butane Price / Mont Belvieu Texas LST', 1149, PURPLE),
                          (1873, 'North American Spot LPG Normal Butane Price / Mont Belvieu LST', 1138, CYAN)]:
    over.plot([670, 688], [my, my], color=col, lw=1.3)
    over.add_patch(Circle((679, my), 5, color=col, lw=0))
    fit_text(over, 695, x1, my, name, 9.6, color=TXT)

# 第五行
seasonal((204, 2175, 615, 2373), -100, 500, range(-100, 501, 100), [str(v) for v in range(-100, 501, 100)],
         'Propane FOB 中东-MB-50',
         [('2014', s9_2014), ('2015', s9_2015), ('2016', s9_2016), ('2017', s9_2017), ('2018', s9_2018),
          ('2019', s9_2019), ('2020', s9_2020), ('2021', s9_2021), ('2022', s9_2022), ('2023', s9_2023),
          ('2024', s9_2024), ('2025', s9_2025), ('2026', s9_2026)],
         COLORS_14, [2142, 2169, 2196], 227, 389, dark=0)

seasonal((726, 2175, 1135, 2373), -100, 600, range(-100, 601, 100), [str(v) for v in range(-100, 601, 100)],
         'Propane CIF NWE-MB',
         [('2015', s10_2015), ('2016', s10_2016), ('2017', s10_2017), ('2018', s10_2018), ('2019', s10_2019),
          ('2020', s10_2020), ('2021', s10_2021), ('2022', s10_2022), ('2023', s10_2023), ('2024', s10_2024),
          ('2025', s10_2025), ('2026', s10_2026)],
         COLORS_15, [2142, 2169, 2196], 748, 909, dark=0)

# 第六行
seasonal((204, 2499, 615, 2697), -200, 800, range(-200, 801, 200), [str(v) for v in range(-200, 801, 200)],
         'Propane CIF Tokyo-MB',
         [('2015', s11_2015), ('2016', s11_2016), ('2017', s11_2017), ('2018', s11_2018), ('2019', s11_2019),
          ('2020', s11_2020), ('2021', s11_2021), ('2022', s11_2022), ('2023', s11_2023), ('2024', s11_2024),
          ('2025', s11_2025), ('2026', s11_2026)],
         COLORS_15, [2466, 2493, 2520], 227, 389, dark=0)

page.add_patch(Rectangle((673, 2423), 474, 311, fill=False, ec='#c8c8c8', lw=1.5, zorder=3))

# 免责声明
rect(149, 2743, 1201, 2917, color=RED, zorder=2)
page.text(153, 2758, '免责声明:', fontsize=13, color='white', weight='bold', va='center', zorder=4)
disc_y = [2787, 2811, 2835, 2858, 2882, 2906]
disc_end = [1185, 1185, 1185, 1185, 1185, 794]
for y, x1, line in zip(disc_y, disc_end, disclaimer_lines):
    fit_text(page, 153, x1, y, line, 12, color='white', zorder=4)

fig.savefig('out.png', dpi=100)
